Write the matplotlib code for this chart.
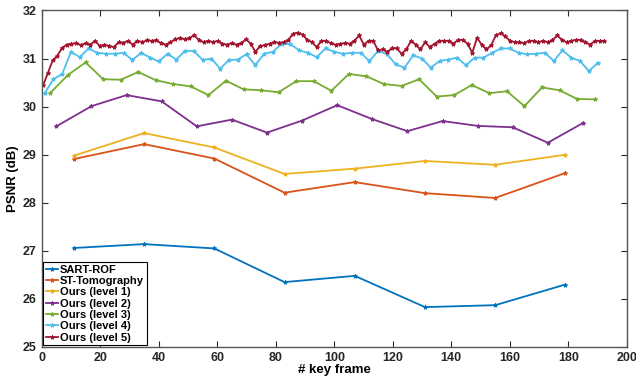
import matplotlib.pyplot as plt
import numpy as np

plt.rcParams['font.family'] = ['Liberation Sans', 'DejaVu Sans']
plt.rcParams['font.weight'] = 'bold'

# frames cles (SART-ROF, ST-Tomography, niveau 1)
x_coarse = [11, 35, 59, 83, 107, 131, 155, 179]
sart_rof = [27.06, 27.14, 27.05, 26.35, 26.48, 25.83, 25.87, 26.30]
st_tomo = [28.91, 29.22, 28.92, 28.21, 28.43, 28.20, 28.10, 28.62]
level1 = [28.98, 29.45, 29.15, 28.60, 28.71, 28.87, 28.79, 29.00]

x_level2 = [5, 17, 29, 41, 53, 65, 77, 89, 101, 113, 125, 137, 149, 161, 173, 185]
level2 = [29.59, 30.01, 30.24, 30.11, 29.59, 29.73, 29.46, 29.71,
          30.03, 29.74, 29.49, 29.70, 29.60, 29.57, 29.25, 29.66]

x_level3 = list(range(3, 190, 6))
level3 = [30.29, 30.66, 30.92, 30.57, 30.56, 30.72, 30.55, 30.47,
          30.42, 30.24, 30.54, 30.36, 30.34, 30.30, 30.53, 30.53,
          30.33, 30.68, 30.63, 30.47, 30.43, 30.57, 30.21, 30.24,
          30.45, 30.28, 30.32, 30.01, 30.40, 30.34, 30.16, 30.15]

x_level4 = list(range(1, 191, 3))
level4 = [30.28, 30.57, 30.68, 31.14, 31.03, 31.21, 31.12, 31.10,
          31.10, 31.12, 30.97, 31.12, 31.02, 30.94, 31.10, 30.98,
          31.16, 31.16, 30.97, 31.00, 30.79, 30.97, 30.98, 31.09,
          30.86, 31.10, 31.14, 31.31, 31.30, 31.17, 31.12, 31.03,
          31.21, 31.14, 31.10, 31.12, 31.12, 30.95, 31.16, 31.09,
          30.88, 30.81, 31.07, 31.00, 30.81, 30.95, 30.98, 31.02,
          30.86, 31.02, 31.02, 31.12, 31.21, 31.21, 31.12, 31.09,
          31.10, 31.12, 30.95, 31.17, 31.02, 30.95, 30.74, 30.91]

level5 = [30.45, 30.70, 30.96, 31.06, 31.22, 31.29, 31.31, 31.32,
          31.28, 31.32, 31.29, 31.37, 31.26, 31.29, 31.26, 31.24,
          31.34, 31.33, 31.37, 31.29, 31.37, 31.34, 31.38, 31.37,
          31.38, 31.32, 31.29, 31.34, 31.40, 31.43, 31.40, 31.43,
          31.48, 31.39, 31.34, 31.37, 31.34, 31.37, 31.31, 31.29,
          31.32, 31.29, 31.32, 31.40, 31.31, 31.14, 31.26, 31.28,
          31.31, 31.34, 31.33, 31.34, 31.39, 31.52, 31.54, 31.50,
          31.39, 31.34, 31.24, 31.37, 31.37, 31.32, 31.29, 31.31,
          31.32, 31.31, 31.37, 31.48, 31.29, 31.37, 31.37, 31.17,
          31.19, 31.14, 31.22, 31.21, 31.10, 31.19, 31.37, 31.29,
          31.19, 31.34, 31.24, 31.31, 31.37, 31.37, 31.37, 31.31,
          31.39, 31.39, 31.31, 31.12, 31.43, 31.29, 31.19, 31.28,
          31.48, 31.53, 31.46, 31.37, 31.34, 31.34, 31.32, 31.37,
          31.37, 31.34, 31.37, 31.34, 31.38, 31.48, 31.39, 31.34,
          31.37, 31.39, 31.39, 31.34, 31.29, 31.37, 31.37, 31.37]
x_level5 = np.linspace(0.5, 192.3, len(level5))

series = [
    ('SART-ROF', x_coarse, sart_rof, '#0072BD'),
    ('ST-Tomography', x_coarse, st_tomo, '#D95319'),
    ('Ours (level 1)', x_coarse, level1, '#EDB120'),
    ('Ours (level 2)', x_level2, level2, '#7E2F8E'),
    ('Ours (level 3)', x_level3, level3, '#77AC30'),
    ('Ours (level 4)', x_level4, level4, '#4DBEEE'),
    ('Ours (level 5)', x_level5, level5, '#A2142F'),
]

fig = plt.figure(figsize=(6.36, 3.83), dpi=100)
ax = fig.add_axes([0.0656, 0.094, 0.92, 0.8786])

for nom, xs, ys, c in series:
    ax.plot(xs, ys, color=c, linewidth=1.3, marker='*', markersize=3,
            markeredgewidth=0.7, label=nom)

ax.set_xlim(0, 200)
ax.set_ylim(25, 32)
ax.set_xticks(np.arange(0, 201, 20))
ax.set_yticks(np.arange(25, 33, 1))
ax.tick_params(direction='in', top=True, right=True, length=4,
               labelsize=9, colors='#262626', width=0.8)
for s in ax.spines.values():
    s.set_color('#555555')
    s.set_linewidth(1.0)
ax.set_xlabel('# key frame', fontsize=9.5, fontweight='bold', labelpad=0)
ax.set_ylabel('PSNR (dB)', fontsize=9.5, fontweight='bold', labelpad=3)

leg = ax.legend(loc='lower left', fontsize=8, handlelength=1.1,
                handletextpad=0.15, borderpad=0.25, labelspacing=0.12,
                fancybox=False, framealpha=1, borderaxespad=0.15)
leg.get_frame().set_edgecolor('black')
leg.get_frame().set_linewidth(0.8)

fig.savefig('out.png', dpi=100)
